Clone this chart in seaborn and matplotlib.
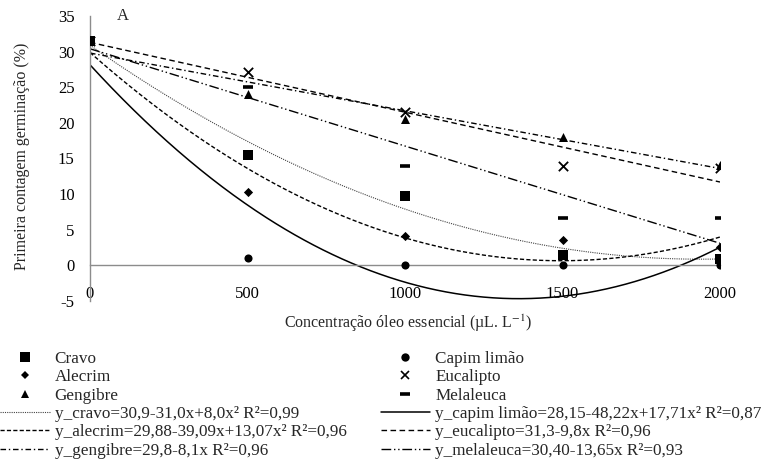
import numpy as np
import pandas as pd
import matplotlib
matplotlib.use("Agg")
import matplotlib.pyplot as plt
from matplotlib.lines import Line2D
import seaborn as sns

# ---------------- data ----------------
concentracao = [0, 500, 1000, 1500, 2000]
cravo = [31.5, 15.5, 9.8, 1.4, 0.9]
capim_limao = [31.5, 1.0, 0.0, 0.0, 0.0]
alecrim = [31.5, 10.3, 4.1, 3.5, 2.6]
eucalipto = [31.5, 27.1, 21.5, 13.9, 13.7]
gengibre = [31.5, 24.0, 20.6, 18.0, 14.1]
melaleuca = [31.5, 25.0, 14.0, 6.7, 6.6]

# trend-line coefficients (x in thousands of µL/L): c0 + c1*x + c2*x^2
coef_cravo = [30.9, -31.0, 8.0]
coef_capim = [28.15, -48.22, 17.71]
coef_alecrim = [29.88, -39.09, 13.07]
coef_eucalipto = [31.3, -9.8, 0.0]
coef_gengibre = [29.8, -8.1, 0.0]
coef_melaleuca = [30.40, -13.65, 0.0]

lab_cravo = "y_cravo=30,9-31,0x+8,0x² R²=0,99"
lab_capim = "y_capim limão=28,15-48,22x+17,71x² R²=0,87"
lab_alecrim = "y_alecrim=29,88-39,09x+13,07x² R²=0,96"
lab_eucalipto = "y_eucalipto=31,3-9,8x R²=0,96"
lab_gengibre = "y_gengibre=29,8-8,1x R²=0,96"
lab_melaleuca = "y_melaleuca=30,40-13,65x R²=0,93"

x_ticks = [0, 500, 1000, 1500, 2000]
y_ticks = [-5, 0, 5, 10, 15, 20, 25, 30, 35]

# ---------------- style ----------------
sns.set_theme(style="white")
plt.rcParams["font.family"] = ["Liberation Serif", "DejaVu Serif"]
plt.rcParams["mathtext.fontset"] = "stix"

fig = plt.figure(figsize=(7.64, 4.72), dpi=100)
ax = fig.add_axes([90 / 764, 1 - 301 / 472, 630 / 764, 285 / 472])

gray = "#8c8c8c"

# trend lines
xs = np.linspace(0, 2000, 401)
def curve(c):
    return c[0] + c[1] * (xs / 1000) + c[2] * (xs / 1000) ** 2

line_specs = [
    ("cravo", coef_cravo, (0, (1, 1)), 0.8, "#444444"),
    ("capim", coef_capim, "-", 1.1, "black"),
    ("alecrim", coef_alecrim, (0, (3, 1.6)), 1.0, "black"),
    ("eucalipto", coef_eucalipto, (0, (4, 2.5)), 1.0, "black"),
    ("gengibre", coef_gengibre, (0, (4, 2, 1, 2)), 1.0, "black"),
    ("melaleuca", coef_melaleuca, (0, (7, 2, 1, 2, 1, 2)), 1.0, "black"),
]
for name, c, ls, lw, col in line_specs:
    df = pd.DataFrame({"x": xs, "y": curve(c)})
    sns.lineplot(data=df, x="x", y="y", ax=ax, color=col, linestyle=ls,
                 linewidth=lw, legend=False, zorder=2)

# points
point_specs = [
    (capim_limao, "o", 34, 0),
    (alecrim, "D", 22, 0),
    (eucalipto, "x", 45, 1.3),
    (gengibre, "^", 42, 0),
    (melaleuca, "_", 48, 2.6),
    (cravo, "s", 52, 0),
]
for vals, m, s, lw in point_specs:
    df = pd.DataFrame({"x": concentracao, "y": vals})
    sns.scatterplot(data=df, x="x", y="y", ax=ax, marker=m, s=s, color="black",
                    legend=False, zorder=3, linewidth=lw)

ax.set_xlim(0, 2000)
ax.set_ylim(-5, 35)
ax.set_xticks(x_ticks)
ax.set_yticks(y_ticks)
ax.set_xticklabels([str(v) for v in x_ticks])
ax.set_yticklabels([str(v) for v in y_ticks])
ax.tick_params(axis="both", length=0, labelsize=12, colors="black")
ax.tick_params(axis="y", pad=11)
ax.tick_params(axis="x", pad=15)
ax.set_xlabel("")
ax.set_ylabel("")
for sp in ["top", "right"]:
    ax.spines[sp].set_visible(False)
ax.spines["bottom"].set_position(("data", 0))
for sp in ["left", "bottom"]:
    ax.spines[sp].set_color(gray)
    ax.spines[sp].set_linewidth(1.0)
ax.set_facecolor("none")

ax.text(123 / 764, 1 - 16 / 472, "A", transform=fig.transFigure, fontsize=12,
        ha="center", va="center")

fig.text(408 / 764, 1 - 323 / 472,
         "Concentração óleo essencial (µL. L$^{-1}$)", fontsize=11.5,
         ha="center", va="center")
fig.text(22 / 764, 1 - 156 / 472, "Primeira contagem germinação (%)",
         fontsize=11.5, rotation=90, ha="center", va="center")

# legend
def mk(m, ms, mew=0):
    return Line2D([], [], marker=m, linestyle="none", color="black",
                  markersize=ms, markeredgewidth=mew)
def ln(ls, lw, col="black"):
    return Line2D([], [], linestyle=ls, linewidth=lw, color=col)

handles = [
    mk("s", 6.5), mk("D", 4.5), mk("^", 6),
    ln((0, (1, 1)), 0.8, "#444444"), ln((0, (3, 1.6)), 1.0), ln((0, (4, 2, 1, 2)), 1.0),
    mk("o", 6), mk("x", 6, 1.2), mk("_", 7, 2.6),
    ln("-", 1.1), ln((0, (4, 2.5)), 1.0), ln((0, (7, 2, 1, 2, 1, 2)), 1.0),
]
labels = [
    "Cravo", "Alecrim", "Gengibre", lab_cravo, lab_alecrim, lab_gengibre,
    "Capim limão", "Eucalipto", "Melaleuca", lab_capim, lab_eucalipto, lab_melaleuca,
]
fig.legend(handles, labels, loc="upper left", bbox_to_anchor=(0.0, 1 - 351 / 472),
           ncol=2, frameon=False, fontsize=12.3, handlelength=2.9,
           handletextpad=0.3, labelspacing=0.135, columnspacing=2.0,
           borderpad=0, borderaxespad=0)

fig.savefig("out.png", dpi=100)
